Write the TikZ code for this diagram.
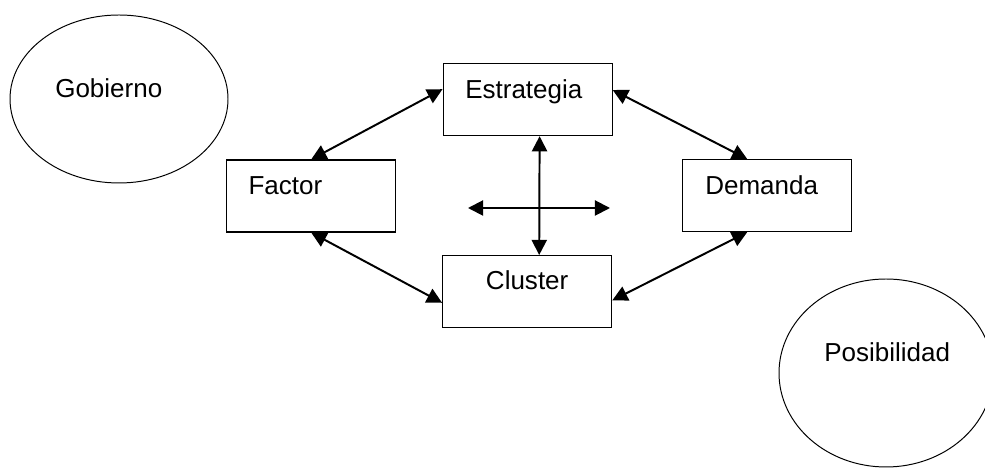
\documentclass[tikz,border=0pt]{standalone}
\usepackage{fontspec}
\setmainfont{Liberation Sans}
\usepackage{tikz}
\usetikzlibrary{arrows.meta,shapes.geometric}

\begin{document}
\begin{tikzpicture}[
    caja/.style={draw,line width=0.85pt,minimum width=4.225cm,minimum height=1.8cm,inner sep=0pt},
    nube/.style={draw,ellipse,line width=0.7pt,inner sep=0pt},
    texto/.style={anchor=base west,inner sep=0pt,font=\fontsize{18.5}{22}\selectfont},
    flecha/.style={line width=1.4pt,{Triangle[length=0.38cm,width=0.38cm]}-{Triangle[length=0.38cm,width=0.38cm]}}
  ]
  \useasboundingbox (0,0) rectangle (24.625,11.7);
  \clip (0,0) rectangle (24.625,11.7);
  % the two outer factors
  \node[nube,minimum width=5.45cm,minimum height=4.2cm] (gob) at (2.975,9.225) {};
  \node[nube,minimum width=5.35cm,minimum height=4.7cm] (pos) at (22.15,2.375) {};
  \node[texto] (tgob) at (1.375,9.25) {Gobierno};
  \node[texto] (tpos) at (20.6,2.6575) {Posibilidad};
  % the diamond
  \node[caja] (estr) at (13.19,9.21) {};
  \node[caja] (fac) at (7.78,6.80) {};
  \node[caja] (clu) at (13.18,4.41) {};
  \node[caja] (dem) at (19.18,6.81) {};
  \node[texto] (testr) at (11.625,9.225) {Estrategia};
  \node[texto] (tfac) at (6.2075,6.825) {Factor};
  \node[texto] (tclu) at (12.1425,4.45) {Cluster};
  \node[texto] (tdem) at (17.625,6.825) {Demanda};
  % links
  \draw[flecha] (fac.north) -- ([yshift=0.26cm]estr.west);
  \draw[flecha] (fac.south) -- ([yshift=-0.28cm]clu.west);
  \draw[flecha] ([yshift=0.24cm]estr.east) -- ([xshift=-0.5cm]dem.north);
  \draw[flecha] ([xshift=-0.5cm]dem.south) -- ([yshift=-0.22cm]clu.east);
  \draw[flecha] ([xshift=0.3cm]estr.south) -- ([xshift=0.3cm]clu.north);
  \coordinate (izq) at (11.7,6.5);
  \coordinate (der) at (15.25,6.5);
  \draw[flecha] (izq) -- (der);
\end{tikzpicture}
\end{document}
